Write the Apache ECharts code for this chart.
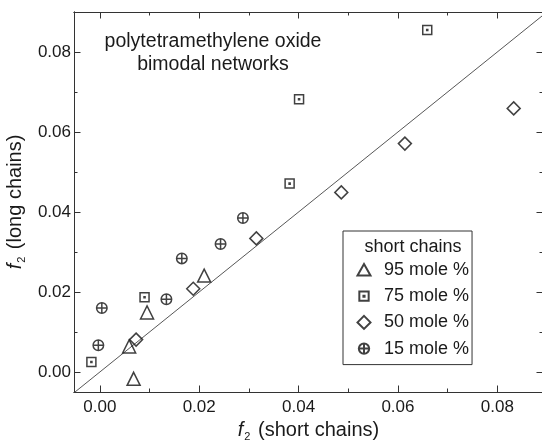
<!DOCTYPE html>
<html><head><meta charset="utf-8">
<script src="https://cdn.jsdelivr.net/npm/echarts@6/dist/echarts.min.js"></script>
<style>html,body{margin:0;padding:0;background:#fff}#c{width:542px;height:441px}</style>
</head><body><div id="c"></div>
<script>
const seriesNames = ['95 mole %', '75 mole %', '50 mole %', '15 mole %'];
const tri95 = [[0.0068, -0.0017], [0.0059, 0.0064], [0.0095, 0.0149], [0.0210, 0.0241]];
const sq75 = [[-0.0017, 0.0025], [0.0090, 0.0187], [0.0382, 0.0471], [0.0401, 0.0682], [0.0659, 0.0855]];
const dia50 = [[0.0073, 0.0081], [0.0188, 0.0208], [0.0315, 0.0334], [0.0486, 0.0449], [0.0614, 0.0571], [0.0833, 0.0659]];
const circ15 = [[-0.0003, 0.0067], [0.0004, 0.0160], [0.0134, 0.0182], [0.0165, 0.0284], [0.0243, 0.0320], [0.0288, 0.0385]];
const refLineEnds = [-0.0052, 0.0892];
const xMajorTicks = [0, 0.02, 0.04, 0.06, 0.08];
const xMinorTicks = [0.01, 0.03, 0.05, 0.07];
const yMajorTicks = [0, 0.02, 0.04, 0.06, 0.08];
const yMinorTicks = [0.01, 0.03, 0.05, 0.07];

const FONT = '"Liberation Sans", Arial, sans-serif';
const INK = '#1a1a1a';
const xRange = [-0.0052, 0.0892];
const yRange = [-0.005, 0.09];
const gridRect = { left: 74, right: -1, top: 12, bottom: 49, outerBoundsMode: 'none', containLabel: false };

const SYM_TRI = 'triangle';
const SYM_SQ = 'path://M0,0H10V10H0Z M4.4,4.4H5.6V5.6H4.4Z';
const SYM_DIA = 'diamond';
const SYM_CIRC = 'path://M0,10A10,10,0,1,1,20,10A10,10,0,1,1,0,10Z M10,0V20 M0,10H20';
const LEG_TRI = 'path://M0,0 M14,14 M7,1L13.5,12.5H0.5Z';
const LEG_SQ = 'path://M-2.5,-2.5 M12.5,12.5 M0,0H10V10H0Z M4.4,4.4H5.6V5.6H4.4Z';
const LEG_DIA = 'path://M0,0 M14,14 M7,0.5L13.5,7L7,13.5L0.5,7Z';
const LEG_CIRC = 'path://M-3.5,-3.5 M23.5,23.5 M0,10A10,10,0,1,1,20,10A10,10,0,1,1,0,10Z M10,0V20 M0,10H20';

const lineStyleAxis = { color: '#333', width: 1 };
const nameStyle = { fontSize: 20, fontFamily: FONT, color: INK,
  rich: { i: { fontStyle: 'italic', fontSize: 20, fontFamily: FONT, color: INK },
          s: { fontSize: 11, fontFamily: FONT, color: INK, padding: [12, 2, 0, 1] } } };
function xAx(grid, pos, ticks, len, labels) {
  return {
    type: 'value', gridIndex: grid, position: pos, min: xRange[0], max: xRange[1],
    axisLine: { show: true, onZero: false, lineStyle: lineStyleAxis },
    axisTick: { show: true, inside: true, length: len, customValues: ticks, lineStyle: lineStyleAxis },
    axisLabel: labels ? { show: true, customValues: xMajorTicks, margin: 7, fontSize: 17, fontFamily: FONT, color: INK, formatter: v => v.toFixed(2) } : { show: false },
    splitLine: { show: false },
    name: (labels ? '{i|f}{s|2} (short chains)' : ''),
    nameLocation: 'middle', nameGap: 24, nameTextStyle: nameStyle
  };
}
function yAx(grid, pos, ticks, len, labels) {
  return {
    type: 'value', gridIndex: grid, position: pos, min: yRange[0], max: yRange[1],
    axisLine: { show: true, onZero: false, lineStyle: lineStyleAxis },
    axisTick: { show: true, inside: true, length: len, customValues: ticks, lineStyle: lineStyleAxis },
    axisLabel: labels ? { show: true, customValues: yMajorTicks, margin: 3, fontSize: 17, fontFamily: FONT, color: INK, formatter: v => v.toFixed(2) } : { show: false },
    splitLine: { show: false },
    name: (labels ? '{i|f}{s|2} (long chains)' : ''),
    nameLocation: 'middle', nameGap: 43, nameRotate: 90, nameTextStyle: nameStyle
  };
}

const markStyle = { color: 'rgba(0,0,0,0)', borderColor: '#111', borderWidth: 1.5 };
function scat(name, data, symbol, size) {
  return { type: 'scatter', name, data, symbol, symbolSize: size, xAxisIndex: 0, yAxisIndex: 0,
    itemStyle: markStyle, emphasis: { disabled: true }, z: 5 };
}

const chart = echarts.init(document.getElementById('c'), null, { renderer: 'canvas' });
chart.setOption({
  animation: false,
  backgroundColor: '#fff',
  grid: [Object.assign({}, gridRect), Object.assign({}, gridRect)],
  xAxis: [xAx(0, 'bottom', xMajorTicks, 6.5, true), xAx(0, 'top', xMajorTicks, 6.5, false),
          xAx(1, 'bottom', xMinorTicks, 3.5, false), xAx(1, 'top', xMinorTicks, 3.5, false)],
  yAxis: [yAx(0, 'left', yMajorTicks, 6.5, true), yAx(0, 'right', yMajorTicks, 6.5, false),
          yAx(1, 'left', yMinorTicks, 3.5, false), yAx(1, 'right', yMinorTicks, 3.5, false)],
  legend: {
    left: 343, top: 231, orient: 'vertical',
    padding: [30, 3, 7, 13], itemGap: 8.2, itemWidth: 30, itemHeight: 14,
    borderColor: '#333', borderWidth: 1, backgroundColor: '#fff',
    textStyle: { fontSize: 18, fontFamily: FONT, color: INK },
    selectedMode: false,
    data: [
      { name: seriesNames[0], icon: LEG_TRI },
      { name: seriesNames[1], icon: LEG_SQ },
      { name: seriesNames[2], icon: LEG_DIA },
      { name: seriesNames[3], icon: LEG_CIRC }
    ]
  },
  graphic: [
    { type: 'text', x: 213, y: 53, z: 10,
      style: { text: 'polytetramethylene oxide\nbimodal networks', align: 'center', verticalAlign: 'middle',
        textAlign: 'center', textVerticalAlign: 'middle', font: '19.5px ' + FONT, lineHeight: 23.4, fill: INK } },
    { type: 'text', x: 413, y: 246.7, z: 10,
      style: { text: 'short chains', align: 'center', verticalAlign: 'middle',
        textAlign: 'center', textVerticalAlign: 'middle', font: '18px ' + FONT, fill: INK } }
  ],
  series: [
    { type: 'line', name: 'y = x', data: refLineEnds.map(v => [v, v]), xAxisIndex: 0, yAxisIndex: 0,
      symbol: 'none', lineStyle: { color: '#444', width: 0.9 }, emphasis: { disabled: true }, z: 2, silent: true },
    scat(seriesNames[0], tri95, SYM_TRI, 13),
    scat(seriesNames[1], sq75, SYM_SQ, 9),
    scat(seriesNames[2], dia50, SYM_DIA, 13),
    scat(seriesNames[3], circ15, SYM_CIRC, 10.5)
  ]
});
</script></body></html>
